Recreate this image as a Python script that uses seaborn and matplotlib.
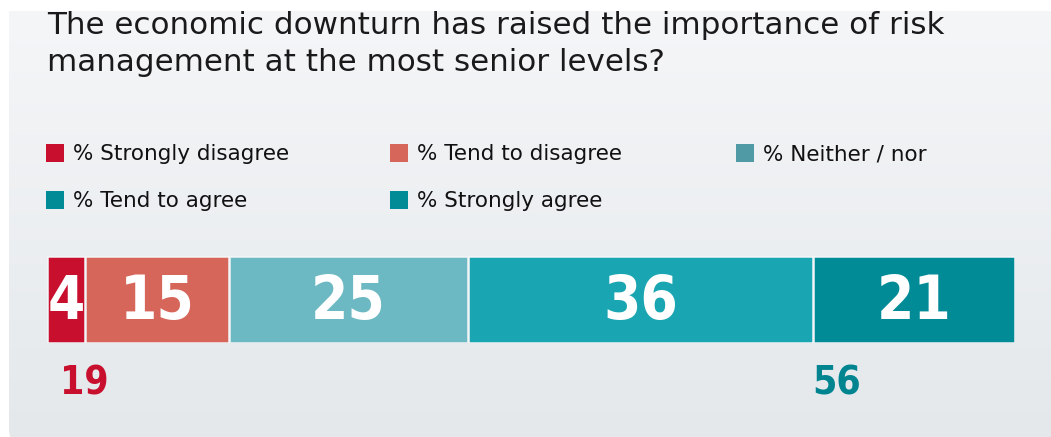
import numpy as np
import matplotlib
matplotlib.use("Agg")
import matplotlib.pyplot as plt
from matplotlib.patches import Rectangle, PathPatch
from matplotlib.path import Path
import seaborn as sns
import pandas as pd

# ---- data ----
categories = ["% Strongly disagree", "% Tend to disagree", "% Neither / nor",
              "% Tend to agree", "% Strongly agree"]
values = [4, 15, 25, 36, 21]
colors = ["#C8102E", "#D6665A", "#6DB9C3", "#19A5B2", "#008B96"]
legend_colors = ["#C8102E", "#D6665A", "#4F9AA5", "#008B96", "#008B96"]
net_labels = ["19", "56"]
net_colors = ["#C8102E", "#00848F"]
title = "The economic downturn has raised the importance of risk\nmanagement at the most senior levels?"

sns.set_theme(style="white")
plt.rcParams["font.family"] = ["DejaVu Sans"]

W, H = 1051, 437
fig = plt.figure(figsize=(W / 100, H / 100), dpi=100)
fig.patch.set_facecolor("white")

def fx(x):
    return x / W

def fy(y):
    return 1 - y / H

# ---- background panel with gradient ----
bg = fig.add_axes([0, 0, 1, 1])
bg.set_xlim(0, W)
bg.set_ylim(H, 0)
bg.axis("off")
grad = np.linspace(0, 1, 256).reshape(-1, 1)
cmap = matplotlib.colors.LinearSegmentedColormap.from_list("g", ["#F5F6F8", "#E4E8EB"])
im = bg.imshow(grad, extent=[9, W + 5, H + 5, 11], aspect="auto", cmap=cmap, zorder=0)
r = 12
verts = [(9, 11), (W + 5, 11), (W + 5, H + 5), (9 + r, H + 5), (9, H + 5), (9, H + 5 - r), (9, 11)]
codes = [Path.MOVETO, Path.LINETO, Path.LINETO, Path.LINETO, Path.CURVE3, Path.CURVE3, Path.CLOSEPOLY]
clip = PathPatch(Path(verts, codes), transform=bg.transData, facecolor="none", edgecolor="none")
bg.add_patch(clip)
im.set_clip_path(clip)

# ---- title ----
fig.text(fx(47), fy(10.5), title, ha="left", va="top", fontsize=22.3,
         color="#1A1A1A", linespacing=1.36)

# ---- legend ----
col_x = [46, 390, 736]
row_y = [153, 200]
sq = 17.5
for i, (lab, c) in enumerate(zip(categories, legend_colors)):
    if i < 3:
        x0, y0 = col_x[i], row_y[0]
    else:
        x0, y0 = col_x[i - 3], row_y[1]
    bg.add_patch(Rectangle((x0, y0 - sq / 2), sq, sq, facecolor=c, edgecolor="none", zorder=2))
    bg.text(x0 + 27, y0 + 1, lab, ha="left", va="center", fontsize=15.5, color="#111111", zorder=2)

# ---- stacked bar ----
bar_left, bar_right = 46.7, 1014.5
bar_top, bar_bot = 255.7, 342.7
ax = fig.add_axes([fx(bar_left), fy(bar_bot), fx(bar_right - bar_left), (bar_bot - bar_top) / H])
total = sum(values)
cum = np.cumsum(values)
df = pd.DataFrame({"row": ["q"] * len(values), "cum": cum, "cat": categories})
for i in range(len(values) - 1, -1, -1):
    sns.barplot(data=df.iloc[[i]], x="cum", y="row", color=colors[i], width=1.0,
                orient="h", ax=ax, edgecolor="#F2F4F6", linewidth=1.8, saturation=1)
ax.set_xlim(0, total)
ax.set_ylim(0.5, -0.5)
ax.axis("off")

starts = cum - np.array(values)
for s, v in zip(starts, values):
    ax.text(s + v / 2, 0.04, str(v), ha="center", va="center", color="white",
            fontsize=43, fontweight="bold", fontstretch="condensed")

# ---- net labels below bar ----
net_x = [3.9, 82.4]
for lab, xx, c in zip(net_labels, net_x, net_colors):
    ax.text(xx, 0.5 + 40.5 / 87, lab, ha="center", va="center", color=c,
            fontsize=28, fontweight="bold", fontstretch="condensed", clip_on=False)

fig.savefig("out.png", dpi=100, facecolor="white")
